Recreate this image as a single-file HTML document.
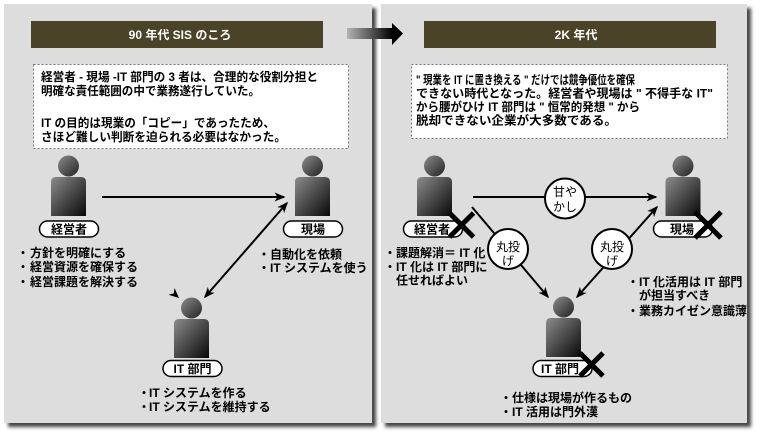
<!DOCTYPE html>
<html><head><meta charset="utf-8">
<style>
html,body{margin:0;padding:0;background:#fff;}
svg{display:block;}
text{font-family:"Liberation Sans","Noto Sans CJK JP",sans-serif;fill:#000;}
.b{font-weight:bold;font-size:12px;}
.n{font-size:12px;}
.t{font-weight:bold;font-size:12px;fill:#fff;}
</style></head>
<body>
<svg width="760" height="435" viewBox="0 0 760 435" xmlns="http://www.w3.org/2000/svg">
<defs>
<filter id="sh" x="-5%" y="-5%" width="115%" height="115%"><feGaussianBlur stdDeviation="1.8"/></filter>
<linearGradient id="bodyg" x1="0" y1="0" x2="1" y2="1">
<stop offset="0" stop-color="#8c8c8c"/><stop offset="1" stop-color="#080808"/></linearGradient>
<linearGradient id="headg" x1="0" y1="0" x2="1" y2="1">
<stop offset="0" stop-color="#8c8c8c"/><stop offset="1" stop-color="#222"/></linearGradient>
<linearGradient id="arrg" x1="0" y1="0" x2="1" y2="0">
<stop offset="0" stop-color="#b4b4b4"/><stop offset="1" stop-color="#000"/></linearGradient>
<marker id="ah" viewBox="0 0 11 9" refX="9.5" refY="4.5" markerWidth="11" markerHeight="9" markerUnits="userSpaceOnUse" orient="auto-start-reverse">
<path d="M0,0 L11,4.5 L0,9 L3,4.5 z" fill="#000"/></marker>
<g id="person">
<circle cx="0" cy="0" r="10.5" fill="url(#headg)"/>
<path d="M-17.5,16 Q-17.5,11 -12.5,11 L12.5,11 Q17.5,11 17.5,16 L17.5,50 L-17.5,50 z" fill="url(#bodyg)"/>
</g>
</defs>

<!-- panels -->
<rect x="8" y="8" width="368" height="419" fill="#444" filter="url(#sh)"/>
<rect x="4" y="4" width="368" height="419" fill="#dddddd"/>
<rect x="385" y="8" width="366" height="419" fill="#444" filter="url(#sh)"/>
<rect x="381" y="4" width="366" height="419" fill="#dddddd"/>

<!-- between arrow -->
<rect x="347" y="28" width="46" height="11" fill="url(#arrg)"/>
<polygon points="392,23 403,33.5 392,45" fill="#000"/>

<!-- title bars -->
<rect x="31" y="21" width="292" height="27" fill="#4a4328"/>
<text class="t" x="180" y="39" text-anchor="middle">90 年代 SIS のころ</text>
<rect x="424" y="21" width="292" height="27" fill="#4a4328"/>
<text class="t" x="576" y="39" text-anchor="middle">2K 年代</text>

<!-- text boxes -->
<rect x="33.5" y="64.5" width="315" height="84" fill="#fff" stroke="#777" stroke-width="1" stroke-dasharray="2,2"/>
<text class="b" x="41" y="81" textLength="277" lengthAdjust="spacingAndGlyphs">経営者 - 現場 -IT 部門の 3 者は、合理的な役割分担と</text>
<text class="b" x="41" y="95" textLength="219" lengthAdjust="spacingAndGlyphs">明確な責任範囲の中で業務遂行していた。</text>
<text class="b" x="41" y="127" textLength="234" lengthAdjust="spacingAndGlyphs">IT の目的は現業の「コピー」であったため、</text>
<text class="b" x="41" y="141" textLength="245" lengthAdjust="spacingAndGlyphs">さほど難しい判断を迫られる必要はなかった。</text>

<rect x="411.5" y="64.5" width="316" height="74" fill="#fff" stroke="#777" stroke-width="1" stroke-dasharray="2,2"/>
<text class="b" x="416" y="84" textLength="219" lengthAdjust="spacingAndGlyphs">" 現業を IT に置き換える " だけでは競争優位を確保</text>
<text class="b" x="416" y="97.5" textLength="297" lengthAdjust="spacingAndGlyphs">できない時代となった。経営者や現場は " 不得手な IT"</text>
<text class="b" x="416" y="111" textLength="224" lengthAdjust="spacingAndGlyphs">から腰がひけ IT 部門は " 恒常的発想 " から</text>
<text class="b" x="416" y="124.5" textLength="201" lengthAdjust="spacingAndGlyphs">脱却できない企業が大多数である。</text>

<!-- LEFT diagram arrows -->
<line x1="102" y1="197" x2="284" y2="197" stroke="#000" stroke-width="2" marker-end="url(#ah)"/>
<line x1="205" y1="297" x2="287" y2="203" stroke="#000" stroke-width="2" marker-start="url(#ah)" marker-end="url(#ah)"/>
<polygon points="179,298 168.5,294.8 173.8,293.4 174.5,288" fill="#000"/>

<!-- LEFT persons -->
<use href="#person" x="68.5" y="166"/>
<rect x="39.5" y="221" width="59" height="16" rx="8" fill="#fff" stroke="#000" stroke-width="1.5"/>
<text class="b" x="69" y="233.5" text-anchor="middle">経営者</text>

<use href="#person" x="312.5" y="166"/>
<rect x="283.5" y="221" width="59" height="16" rx="8" fill="#fff" stroke="#000" stroke-width="1.5"/>
<text class="b" x="313" y="233.5" text-anchor="middle">現場</text>

<use href="#person" x="191.5" y="308"/>
<rect x="163" y="360.5" width="59" height="16" rx="8" fill="#fff" stroke="#000" stroke-width="1.5"/>
<text class="b" x="192.5" y="373" text-anchor="middle">IT 部門</text>

<!-- LEFT bullets -->
<text class="b" x="23" y="257" text-anchor="middle">・</text><text class="b" x="30" y="257">方針を明確にする</text>
<text class="b" x="23" y="271" text-anchor="middle">・</text><text class="b" x="30" y="271">経営資源を確保する</text>
<text class="b" x="23" y="286" text-anchor="middle">・</text><text class="b" x="30" y="286">経営課題を解決する</text>

<text class="b" x="264" y="258.5" text-anchor="middle">・</text><text class="b" x="270" y="258.5">自動化を依頼</text>
<text class="b" x="264" y="272" text-anchor="middle">・</text><text class="b" x="270" y="272">IT システムを使う</text>

<text class="b" x="144" y="397" text-anchor="middle">・</text><text class="b" x="149" y="397">IT システムを作る</text>
<text class="b" x="144" y="411" text-anchor="middle">・</text><text class="b" x="149" y="411">IT システムを維持する</text>

<!-- RIGHT diagram arrows -->
<line x1="473" y1="197" x2="656" y2="197" stroke="#000" stroke-width="2" marker-end="url(#ah)"/>
<line x1="472" y1="207" x2="548" y2="297" stroke="#000" stroke-width="2" marker-end="url(#ah)"/>
<line x1="577" y1="297" x2="657" y2="207" stroke="#000" stroke-width="2" marker-start="url(#ah)" marker-end="url(#ah)"/>

<circle cx="565" cy="198.5" r="20" fill="#fff" stroke="#000" stroke-width="2"/>
<text class="n" x="565" y="196" text-anchor="middle">甘や</text>
<text class="n" x="565" y="211" text-anchor="middle">かし</text>

<circle cx="508" cy="249" r="20" fill="#fff" stroke="#000" stroke-width="2"/>
<text class="n" x="508" y="251" text-anchor="middle">丸投</text>
<text class="n" x="508" y="265" text-anchor="middle">げ</text>

<circle cx="612" cy="249" r="20" fill="#fff" stroke="#000" stroke-width="2"/>
<text class="n" x="612" y="251" text-anchor="middle">丸投</text>
<text class="n" x="612" y="265" text-anchor="middle">げ</text>

<!-- RIGHT persons -->
<use href="#person" x="434.5" y="166"/>
<rect x="403.5" y="221" width="59" height="16" rx="8" fill="#fff" stroke="#000" stroke-width="1.5"/>
<text class="b" x="432" y="233.5" text-anchor="middle">経営者</text>

<use href="#person" x="683" y="166"/>
<rect x="653.5" y="221" width="59" height="16" rx="8" fill="#fff" stroke="#000" stroke-width="1.5"/>
<text class="b" x="682" y="233.5" text-anchor="middle">現場</text>

<use href="#person" x="563.5" y="307"/>
<rect x="533" y="360.5" width="59" height="16" rx="8" fill="#fff" stroke="#000" stroke-width="1.5"/>
<text class="b" x="560" y="373" text-anchor="middle">IT 部門</text>

<!-- X marks -->
<g stroke="#000" stroke-width="5">
<line x1="449.5" y1="213" x2="473.5" y2="237"/><line x1="473.5" y1="213" x2="449.5" y2="237"/>
<line x1="695" y1="212" x2="721" y2="238"/><line x1="721" y1="212" x2="695" y2="238"/>
<line x1="580" y1="353" x2="603" y2="376"/><line x1="603" y1="353" x2="580" y2="376"/>
</g>

<!-- RIGHT bullets -->
<text class="b" x="390" y="257" text-anchor="middle">・</text><text class="b" x="396" y="257">課題解消＝ IT 化</text>
<text class="b" x="390" y="271" text-anchor="middle">・</text><text class="b" x="396" y="271">IT 化は IT 部門に</text>
<text class="b" x="396" y="284.5">任せればよい</text>

<text class="b" x="633" y="286" text-anchor="middle">・</text><text class="b" x="639" y="286">IT 化活用は IT 部門</text>
<text class="b" x="639" y="299.5">が担当すべき</text>
<text class="b" x="633" y="315" text-anchor="middle">・</text><text class="b" x="639" y="315">業務カイゼン意識薄</text>

<text class="b" x="506" y="402" text-anchor="middle">・</text><text class="b" x="512" y="402">仕様は現場が作るもの</text>
<text class="b" x="506" y="416" text-anchor="middle">・</text><text class="b" x="512" y="416">IT 活用は門外漢</text>
</svg>
</body></html>
